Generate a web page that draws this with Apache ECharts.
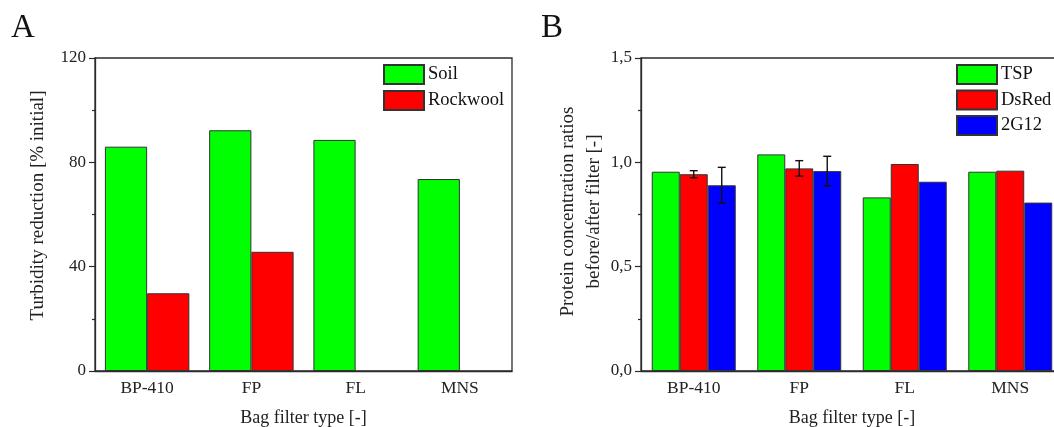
<!DOCTYPE html>
<html>
<head>
<meta charset="utf-8">
<script src="https://cdn.jsdelivr.net/npm/echarts@6/dist/echarts.min.js"></script>
<style>
  html, body { margin: 0; padding: 0; background: #fff; overflow: hidden; }
  /* panel B runs past the right edge of the window */
  #chart { width: 1080px; height: 427px; }
</style>
</head>
<body>
<div id="chart"></div>
<script>
// Bag filter types shared by both panels
const filterTypes = ['BP-410', 'FP', 'FL', 'MNS'];

// Panel A: turbidity reduction [% initial]
const soilReduction = [86.0, 92.3, 88.6, 73.6];
const rockwoolReduction = [29.8, 45.7, null, null];
const turbidityTicks = [0, 40, 80, 120];

// Panel B: protein concentration ratios before/after filter
const tspRatio = [0.955, 1.038, 0.832, 0.955];
const dsredRatio = [0.943, 0.971, 0.992, 0.960];
const g12Ratio = [0.890, 0.958, 0.907, 0.807];
const dsredErr = [0.017, 0.037, null, null];
const g12Err = [0.086, 0.071, null, null];
const ratioTicks = [0, 0.5, 1.0, 1.5];

const FONT = '"Liberation Serif", "Times New Roman", serif';
const INK = '#2b2b2b';
const GAP_A = 0.19;
const GAP_B = 0.204;

const barBorder = { borderColor: '#333', borderWidth: 1 };

function valueAxis(gridIndex, ticks, name, fmt, nameGap, namePad) {
  return {
    type: 'value', gridIndex: gridIndex,
    min: ticks[0], max: ticks[ticks.length - 1], interval: ticks[1] - ticks[0],
    name: name, nameLocation: 'middle', nameGap: nameGap, nameMoveOverlap: false,
    nameTextStyle: { fontFamily: FONT, fontSize: 19, color: '#222', lineHeight: 26, padding: namePad },
    axisLine: { show: true, lineStyle: { color: INK, width: 1.3 } },
    axisTick: { show: true, length: 6, lineStyle: { color: INK, width: 1.2 } },
    minorTick: { show: true, splitNumber: 2, length: 3, lineStyle: { color: INK, width: 1.2 } },
    splitLine: { show: false },
    axisLabel: { fontFamily: FONT, fontSize: 17, color: '#222', margin: 9, formatter: fmt }
  };
}

function categoryAxis(gridIndex) {
  return {
    type: 'category', gridIndex: gridIndex, data: filterTypes,
    name: 'Bag filter type [-]', nameLocation: 'middle', nameGap: 38, nameMoveOverlap: false,
    nameTextStyle: { fontFamily: FONT, fontSize: 18, color: '#222' },
    axisLine: { show: true, lineStyle: { color: INK, width: 1.3 } },
    axisTick: { show: false },
    axisLabel: { fontFamily: FONT, fontSize: 17.5, color: '#222', margin: 8 }
  };
}

// Error bars drawn over the grouped bars of panel B
function errorSeries(name, means, errs, slot) {
  const data = filterTypes.map((c, i) => errs[i] == null ? null : [i, means[i], errs[i]]).filter(d => d);
  return {
    type: 'custom', name: name + ' error', xAxisIndex: 1, yAxisIndex: 1, z: 5,
    data: data,
    renderItem: function (params, api) {
      const idx = api.value(0), mean = api.value(1), err = api.value(2);
      const band = api.size([1, 0])[0];
      const group = band * (1 - GAP_B);
      const bw = group / 3;
      const center = api.coord([idx, mean])[0];
      const x = center - group / 2 + bw * (slot + 0.5);
      const top = api.coord([idx, mean + err])[1];
      const bot = api.coord([idx, mean - err])[1];
      const cap = 4;
      const style = { stroke: '#111', lineWidth: 1.4 };
      return {
        type: 'group',
        children: [
          { type: 'line', shape: { x1: x, y1: top, x2: x, y2: bot }, style: style },
          { type: 'line', shape: { x1: x - cap, y1: top, x2: x + cap, y2: top }, style: style },
          { type: 'line', shape: { x1: x - cap, y1: bot, x2: x + cap, y2: bot }, style: style }
        ]
      };
    }
  };
}

const commaFmt = v => v.toFixed(1).replace('.', ',');

const option = {
  animation: false,
  backgroundColor: '#fff',
  textStyle: { fontFamily: FONT },
  grid: [
    { left: 95, top: 58, width: 417, bottom: 56, outerBoundsMode: 'none', containLabel: false,
      show: true, borderColor: INK, borderWidth: 1.3 },
    { left: 641, top: 58, width: 422, bottom: 56, outerBoundsMode: 'none', containLabel: false,
      show: true, borderColor: INK, borderWidth: 1.3 }
  ],
  xAxis: [categoryAxis(0), categoryAxis(1)],
  yAxis: [
    valueAxis(0, turbidityTicks, 'Turbidity reduction [% initial]', v => String(v), 44, [0, 0, 0, 18]),
    valueAxis(1, ratioTicks, 'Protein concentration ratios\nbefore/after filter [-]', commaFmt, 34, [0, 0, 0, 6])
  ],
  legend: [
    {
      data: ['Soil', 'Rockwool'], orient: 'vertical', left: 383, top: 64,
      itemWidth: 40, itemHeight: 19, itemGap: 5, padding: 0, icon: 'rect',
      textStyle: { fontFamily: FONT, fontSize: 18.5, color: '#111', padding: [0, 0, 0, -1] }
    },
    {
      data: ['TSP', 'DsRed', '2G12'], orient: 'vertical', left: 956, top: 64,
      itemWidth: 40, itemHeight: 19, itemGap: 4.5, padding: 0, icon: 'rect',
      textStyle: { fontFamily: FONT, fontSize: 18.5, color: '#111', padding: [0, 0, 0, -1] }
    }
  ],
  graphic: [
    { type: 'text', left: 11, top: 12, style: { text: 'A', font: '33px ' + FONT, fill: '#111' } },
    { type: 'text', left: 541, top: 12, style: { text: 'B', font: '33px ' + FONT, fill: '#111' } }
  ],
  series: [
    { type: 'bar', name: 'Soil', xAxisIndex: 0, yAxisIndex: 0, data: soilReduction,
      barGap: '0%', barCategoryGap: (GAP_A * 100) + '%', itemStyle: Object.assign({ color: '#00ff00' }, barBorder) },
    { type: 'bar', name: 'Rockwool', xAxisIndex: 0, yAxisIndex: 0, data: rockwoolReduction,
      barGap: '0%', barCategoryGap: (GAP_A * 100) + '%', itemStyle: Object.assign({ color: '#ff0000' }, barBorder) },
    { type: 'bar', name: 'TSP', xAxisIndex: 1, yAxisIndex: 1, data: tspRatio,
      barGap: '0%', barCategoryGap: (GAP_B * 100) + '%', itemStyle: Object.assign({ color: '#00ff00' }, barBorder) },
    { type: 'bar', name: 'DsRed', xAxisIndex: 1, yAxisIndex: 1, data: dsredRatio,
      barGap: '0%', barCategoryGap: (GAP_B * 100) + '%', itemStyle: Object.assign({ color: '#ff0000' }, barBorder) },
    { type: 'bar', name: '2G12', xAxisIndex: 1, yAxisIndex: 1, data: g12Ratio,
      barGap: '0%', barCategoryGap: (GAP_B * 100) + '%', itemStyle: Object.assign({ color: '#0000ff' }, barBorder) },
    errorSeries('DsRed', dsredRatio, dsredErr, 1),
    errorSeries('2G12', g12Ratio, g12Err, 2)
  ]
};

const chart = echarts.init(document.getElementById('chart'), null, { renderer: 'canvas' });
chart.setOption(option);
</script>
</body>
</html>
